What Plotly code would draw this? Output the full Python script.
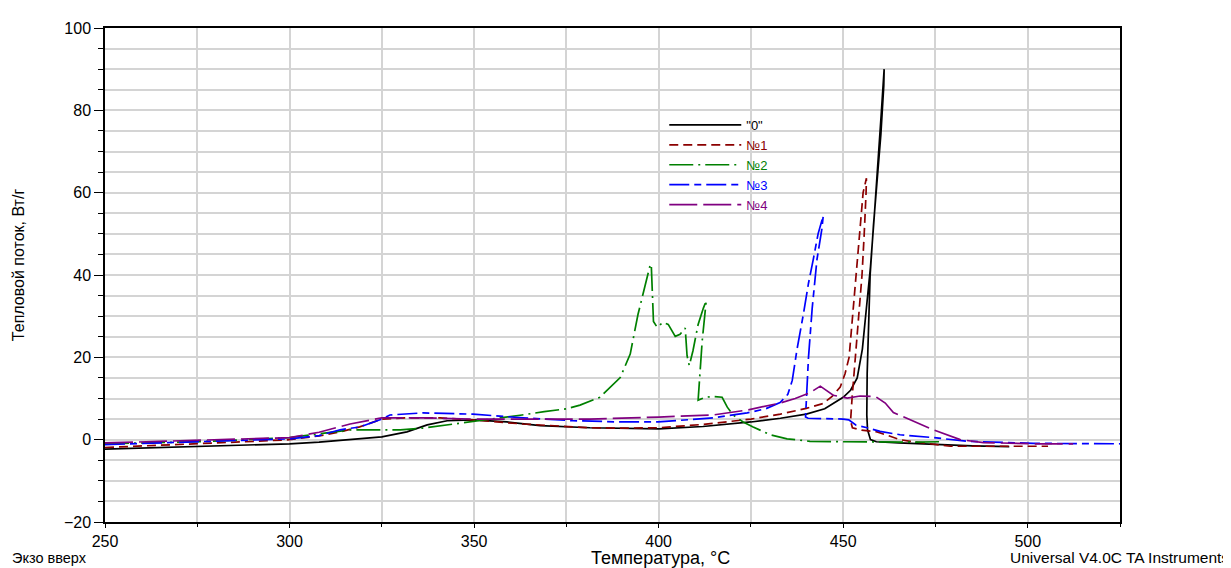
import plotly.graph_objects as go

# DSC curves, temperature (°C) vs heat flow (W/g)
t0 = [250, 262, 275.7, 288, 300, 308, 316, 325, 331.8, 337.3, 342.7, 349.7, 358.9, 367.9, 381.4, 390, 400, 412, 425, 433, 440, 445, 450,
      452, 453.8, 455.2, 456.4, 457.4, 458.4, 459.4, 460.3, 461.1,
      461.0, 460.2, 459.2, 458.2, 457.3, 456.8, 456.5, 456.4, 456.6, 457.4, 459, 465, 475, 485, 495]
q0 = [-2.3, -2.0, -1.7, -1.4, -1.0, -0.6, 0.0, 0.7, 1.9, 3.6, 4.6, 4.8, 4.3, 3.4, 2.9, 2.7, 2.6, 3.2, 4.3, 5.2, 6.2, 7.5, 10.3,
      12.0, 15.0, 22, 32, 42, 54, 66, 79, 90,
      86, 74, 64, 52, 40, 28, 16, 6, 2.4, 0.0, -0.5, -0.8, -1.2, -1.5, -1.7]

t1 = [250, 262, 275.7, 288, 300, 308, 313.7, 319, 325, 331.8, 340.8, 349.7, 363.3, 381.4, 390, 400, 412, 425, 433, 440, 444.6, 447, 449.2,
      450.5, 451.6, 452.6, 453.5, 454.5, 455.4, 456.3,
      456.2, 455.7, 455.1, 454.2, 453.2, 452.4, 452.0, 452.5, 455, 459.2, 465.4, 468.2, 479, 490, 505.5]
q1 = [-1.9, -1.5, -1.0, -0.5, 0.0, 0.9, 1.9, 3.1, 5.0, 5.3, 5.3, 4.8, 3.8, 2.9, 2.8, 2.9, 3.7, 5.0, 6.2, 7.6, 8.8, 10.5, 12.8,
      16, 20, 30, 40, 50, 60, 63.5,
      60, 50, 40, 30, 20, 10, 4.5, 2.9, 2.3, 1.9, 0.0, -0.4, -1.6, -1.6, -1.6]

t2 = [250, 262, 275, 288, 300, 308, 316.4, 322, 330, 336, 343, 350, 357, 363, 369, 375, 378.7, 384.1, 389.6, 392.3, 394.4, 396.3,
      397.7, 398, 398.2, 398.6, 399.6, 401.2, 402.6, 404.5, 405.8, 407.2, 407.7, 408.3, 409.3, 410.7, 412.1, 412.9,
      411.8, 411, 410.7, 412.6, 414.8, 417.2, 418.6, 420.2, 422.9, 425.6, 430.2, 434.8, 441, 450, 460, 470, 476]
q2 = [-1.0, -0.8, -0.5, 0.0, 0.5, 1.4, 2.4, 2.4, 2.4, 2.8, 3.6, 4.4, 5.2, 6.0, 6.8, 7.5, 8.4, 10.3, 15.1, 20.8, 30.4, 37.6,
      42.4, 42.6, 35.9, 28.7, 27.3, 28.5, 28.0, 25.1, 25.6, 27.1, 20.4, 18.0, 21.6, 28.0, 31.9, 33.8,
      24.0, 14.4, 9.6, 10.3, 10.5, 10.3, 7.9, 6.0, 4.3, 3.1, 1.2, 0.2, -0.4, -0.5, -0.6, -0.6, -0.5]

t3 = [250, 262, 275.7, 288, 300, 308, 313.7, 319.1, 325, 327.2, 336.2, 349.7, 363.3, 376.8, 390, 399.9, 414.8, 424, 429, 432.9,
      435, 436.2, 437.5, 439.2, 440.6, 441.9, 443.2, 444.6,
      444.2, 442.9, 441.6, 440.6, 440.2, 439.8, 440.5, 446.5, 450, 451.5, 453.5, 456.5, 460, 465.4, 474.4, 483.6, 492.5, 501.5, 525]
q3 = [-1.2, -0.9, -0.5, -0.2, 0.2, 1.0, 2.4, 3.1, 5.0, 6.0, 6.5, 6.2, 5.3, 4.6, 4.3, 4.3, 5.3, 6.5, 7.5, 9.0,
      11.0, 14.4, 22, 30.4, 38, 43.8, 50, 54.4,
      51, 43.8, 31.9, 20, 12, 5.5, 5.2, 5.1, 5.0, 4.8, 3.5, 2.9, 2.0, 1.2, 0.5, -0.4, -0.7, -0.9, -1.0]

t4 = [250, 262, 275, 288, 300, 308, 316.4, 325, 336.2, 349.7, 363.3, 381.4, 400, 414.8, 424, 432.9, 437, 441, 443.8, 445.5,
      447.3, 451.1, 454.6, 458.7, 461.4, 463.6, 468.2, 474.4, 481.7, 488, 501.5, 512.3]
q4 = [-0.8, -0.5, -0.2, 0.1, 0.5, 1.8, 3.8, 5.3, 5.3, 5.0, 5.0, 5.0, 5.5, 6.0, 7.2, 8.9, 10.0, 11.4, 13.0, 12.0,
      10.8, 10.1, 10.6, 10.5, 8.9, 6.6, 4.8, 2.4, 0.0, -0.7, -1.0, -1.0]

names = ['"0"', '№1', '№2', '№3', '№4']
colors = ['#000000', '#8b0000', '#008000', '#0000ff', '#800080']
dashes = ['solid', '9px,5px', '24px,5px,2px,5px', '20px,5px,7px,5px', '28px,6px']
series = [(t0, q0), (t1, q1), (t2, q2), (t3, q3), (t4, q4)]

FONT = "Liberation Sans, Arial, sans-serif"
NARROW = "Liberation Sans Narrow, Arial Narrow, Liberation Sans, sans-serif"

fig = go.Figure()
for (tx, qy), nm, col, ds in zip(series, names, colors, dashes):
    fig.add_trace(go.Scatter(x=tx, y=qy, mode="lines",
                             name='<span style="color:%s">%s</span>' % (col, nm),
                             line=dict(color=col, width=1.7, dash=ds)))

grid = "#d4d4d4"
# page body has an 8px margin, so the figure is made 8px smaller
fig.update_layout(
    width=1223, height=560,
    margin=dict(l=97, r=111, t=13, b=46),
    paper_bgcolor="white", plot_bgcolor="white",
    font=dict(family=FONT, size=16, color="black"),
    showlegend=True,
    legend=dict(x=0.551, y=0.834, xanchor="left", yanchor="top",
                bgcolor="rgba(0,0,0,0)", font=dict(size=13, family=FONT),
                tracegroupgap=0, itemwidth=72),
    xaxis=dict(range=[250, 525], dtick=50, tick0=250, showgrid=True, gridcolor=grid, gridwidth=2,
               showline=True, linecolor="black", linewidth=1.5, mirror=True,
               ticks="outside", ticklen=4, tickcolor="black", zeroline=False,
               minor=dict(dtick=25, showgrid=True, gridcolor=grid, gridwidth=2, ticks="outside", ticklen=3,
                          tickcolor="black")),
    yaxis=dict(range=[-20, 100], dtick=20, tick0=0, showgrid=True, gridcolor=grid, gridwidth=1.5,
               showline=True, linecolor="black", linewidth=1.5, mirror=True,
               ticks="outside", ticklen=9, tickcolor="black", zeroline=False,
               minor=dict(dtick=5, showgrid=True, gridcolor=grid, gridwidth=1.5, ticks="outside", ticklen=5,
                          tickcolor="black")),
)

fig.add_annotation(text="Тепловой поток, Вт/г", xref="paper", yref="paper", x=-0.0857, y=0.52,
                   xanchor="center", yanchor="middle",
                   textangle=-90, showarrow=False, font=dict(family=NARROW, size=16))
fig.add_annotation(text="Температура, °C", xref="paper", yref="paper", x=0.547, y=-0.073,
                   showarrow=False, font=dict(family=NARROW, size=18), yanchor="middle")
fig.add_annotation(text="Экзо вверх", xref="paper", yref="paper", x=-0.094, y=-0.072, xanchor="left",
                   showarrow=False, font=dict(family=FONT, size=14.5), yanchor="middle")
fig.add_annotation(text="Universal V4.0C TA Instruments", xref="paper", yref="paper", x=1.109, y=-0.072,
                   xanchor="right", showarrow=False, font=dict(family=NARROW, size=15.5), yanchor="middle")

fig.write_html("out.html")
